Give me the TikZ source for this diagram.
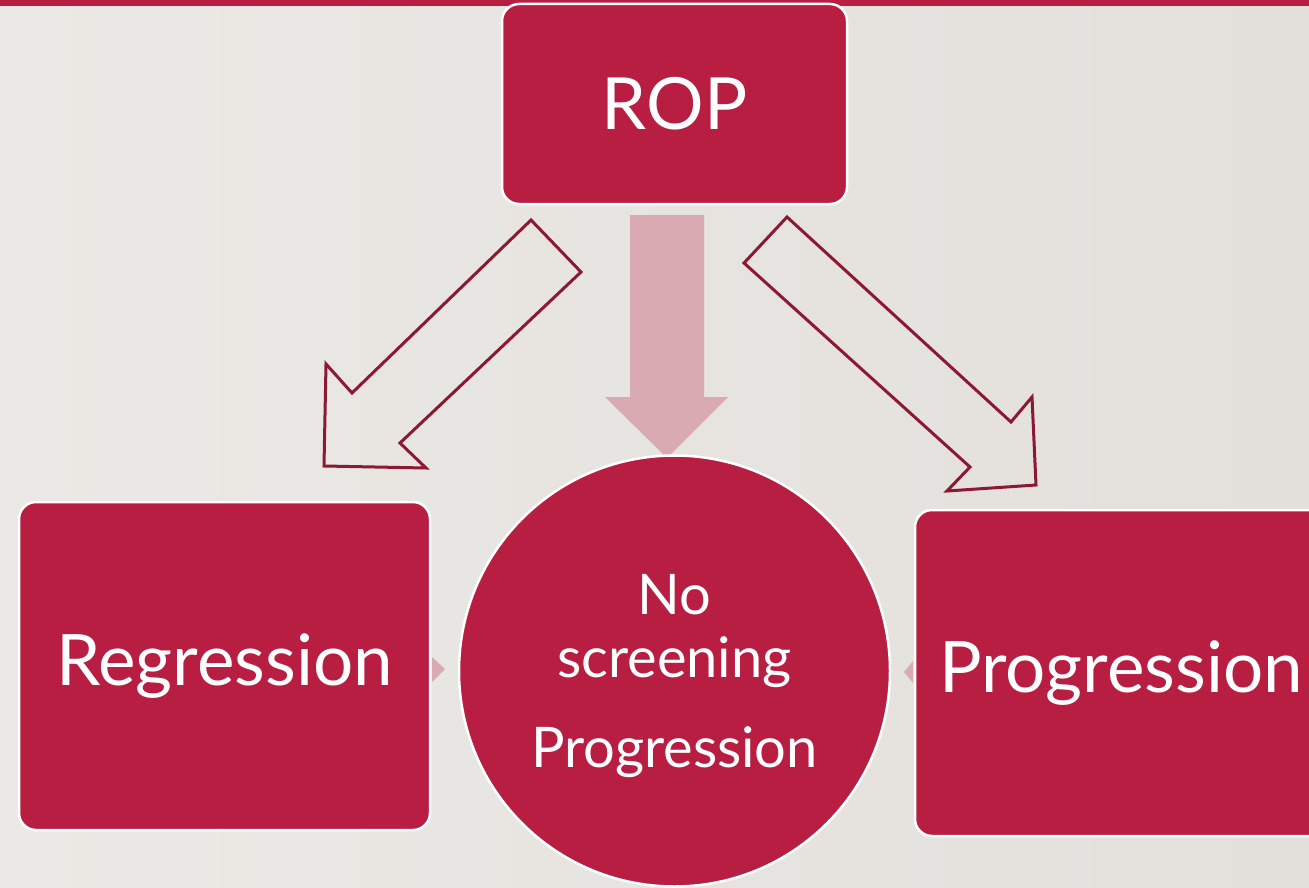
\documentclass[tikz,border=0pt]{standalone}
\usepackage{fontspec}
\setmainfont{Lato}
\definecolor{crim}{HTML}{B81E42}
\definecolor{arrowline}{HTML}{8C1832}
\definecolor{pinkfill}{HTML}{D9AAB2}
\definecolor{bgl}{HTML}{EBE9E5}
\definecolor{bgr}{HTML}{E3E0DC}
\tikzset{
  box/.style={fill=crim, draw=white, line width=2.5pt, rounded corners=17pt, text=white, inner sep=0pt},
  outarrow/.style={draw=arrowline, line width=3pt, line join=miter},
  pinkarrow/.style={fill=pinkfill},
  bigtext/.style={font=\fontsize{71}{78}\selectfont},
  midtext/.style={font=\fontsize{56}{62}\selectfont, text=white}
}
\begin{document}
\begin{tikzpicture}[x=1pt,y=-1pt]
\useasboundingbox (0,0) rectangle (1309,888);
\clip (0,0) rectangle (1309,888);
\shade[left color=bgl,right color=bgr] (0,0) rectangle (1309,888);
\fill[crim] (0,0) rectangle (1309,6);
% central arrow
\fill[pinkarrow] (630,215) -- (704,215) -- (704,397) -- (728,397) -- (667,458) -- (605,397) -- (630,397) -- cycle;
% small triangles
\fill[pinkarrow] (432,657) -- (445,669) -- (432,682) -- cycle;
\fill[pinkarrow] (913,661) -- (904,672) -- (913,683) -- cycle;
% outline arrows
\draw[outarrow] (531,220) -- (581,272) -- (400,443) -- (426,468) -- (324,466) -- (326,364) -- (352,393) -- cycle;
\draw[outarrow] (787,217) -- (744,263) -- (970,467) -- (947,491) -- (1036,485) -- (1032,397) -- (1011,422) -- cycle;
% nodes
\node[box, minimum width=345pt, minimum height=200pt, font=\fontsize{72}{80}\selectfont] (rop) at (674.5,104) {ROP};
\node[box, minimum width=411pt, minimum height=328pt, bigtext] (reg) at (224.5,666) {Regression};
\node[box, minimum width=412pt, minimum height=326pt, bigtext] (prog) at (1121,673) {Progression};
\node[circle, fill=crim, draw=white, line width=2.5pt, minimum size=431pt, inner sep=0pt] (mid) at (674.5,671) {};
\node[midtext, anchor=base] (no) at (674.5,614) {No};
\node[midtext, anchor=base] (scr) at (674.5,677) {screening};
\node[midtext, anchor=base] (prg) at (674.5,767) {Progression};
\end{tikzpicture}
\end{document}
